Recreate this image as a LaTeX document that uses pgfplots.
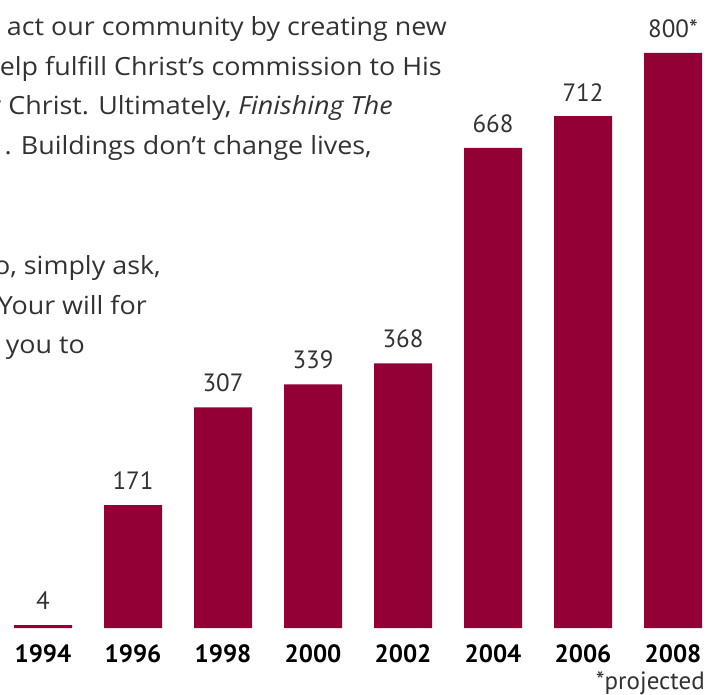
\documentclass[border=0pt]{standalone}
\usepackage{pgfplots}
\pgfplotsset{compat=1.18}
\usepackage{fontspec}
\setmainfont{PT Sans}
\newfontfamily\bodyfont{Open Sans}
\definecolor{barred}{HTML}{930035}
\definecolor{txt}{HTML}{333132}
\begin{document}
\begin{tikzpicture}[x=1pt,y=1pt]
\path[use as bounding box, clip] (0,0) rectangle (706,694);
\begin{axis}[
  at={(0,0)}, anchor=south west,
  width=706pt, height=694pt, scale only axis,
  xmin=-0.47778, xmax=7.36667,
  ymin=-91.826, ymax=873.74,
  axis lines=none, ticks=none, clip=false,
  ybar, bar width=58pt,
  nodes near coords,
  point meta=explicit symbolic,
  every node near coord/.append style={font=\fontsize{25}{30}\selectfont, color=txt, inner sep=0pt, anchor=south, yshift=15pt},
]
\addplot[fill=barred, draw=none] coordinates {
  (0,4) [4]
  (1,171) [171]
  (2,307) [307]
  (3,339) [339]
  (4,368) [368]
  (5,668) [668]
  (6,712) [712]
  (7,800) [800*]
};
\end{axis}
% year labels
\foreach \yr [count=\i from 0] in {1994,1996,1998,2000,2002,2004,2006,2008} {
  \node[anchor=base, inner sep=0pt, font=\fontsize{25}{30}\selectfont\bfseries] at (43+90*\i, 32) {\yr};
}
\node[anchor=base east, inner sep=0pt, font=\fontsize{25}{28}\selectfont, color=txt] at (705, 5) {*projected};
% background text (cut at the left edge as in the reference)
\begin{scope}[every node/.style={anchor=base east, inner sep=0pt, xscale=1.075, transform shape, font=\bodyfont\fontsize{25}{36}\selectfont, color=txt}]
\node at (447, 694-36) {act our community by creating new};
\node at (442, 694-76) {elp fulfill Christ’s commission to His};
\node at (393, 694-115) {r Christ. Ultimately, \textit{Finishing The}};
\node at (372, 694-155) {. Buildings don’t change lives,};
\node at (161, 694-275) {o, simply ask,};
\node at (147, 694-315) {Your will for};
\node at (85, 694-354) {you to};
\end{scope}
\end{tikzpicture}
\end{document}
